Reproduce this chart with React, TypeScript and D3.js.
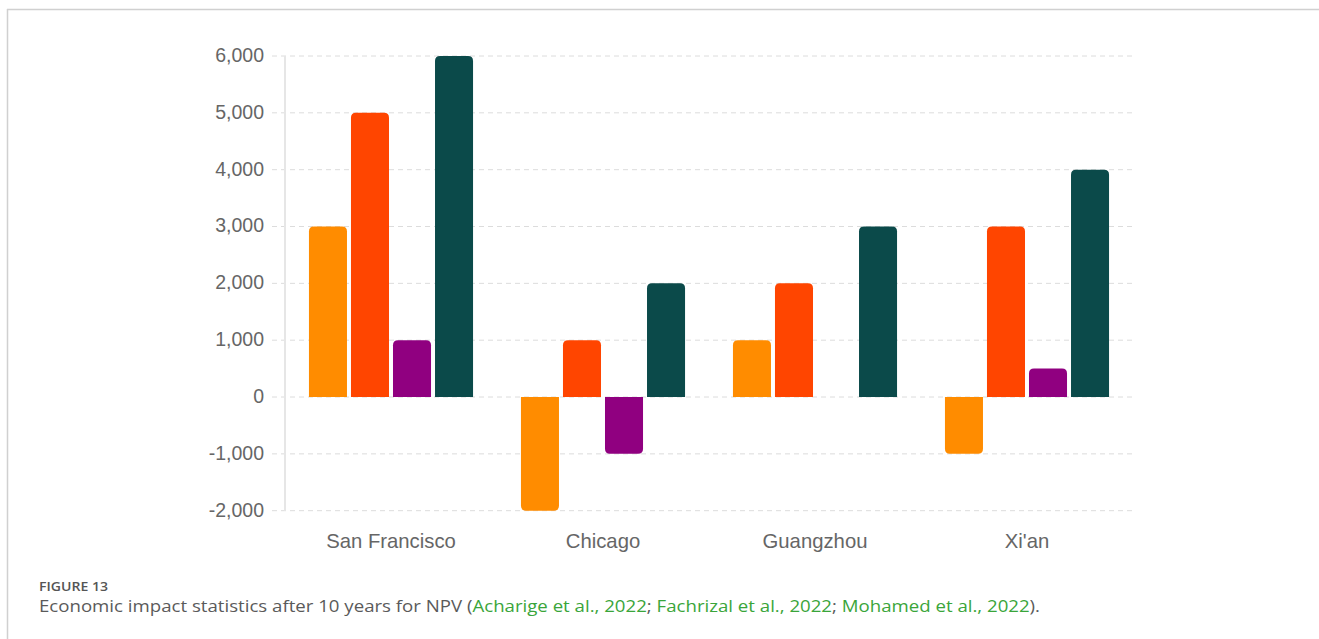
import React from "react";
import * as d3 from "d3";

const categories = ["San Francisco", "Chicago", "Guangzhou", "Xi'an"];
const seriesNames = ["A", "B", "C", "D"];
const seriesA = [3000, -2000, 1000, -1000];
const seriesB = [5000, 1000, 2000, 3000];
const seriesC = [1000, -1000, 0, 500];
const seriesD = [6000, 2000, 3000, 4000];
const colors = ["#ff8c00", "#ff4500", "#900080", "#0b4a4a"];
const yTicks = [-2000, -1000, 0, 1000, 2000, 3000, 4000, 5000, 6000];

const W = 1319;
const H = 639;

function barPath(x: number, w: number, y0: number, y1: number, r: number) {
  const h = Math.abs(y1 - y0);
  if (h < 0.5) return "";
  const rr = Math.min(r, h, w / 2);
  if (y1 < y0) {
    return `M${x},${y0}V${y1 + rr}Q${x},${y1} ${x + rr},${y1}H${x + w - rr}Q${x + w},${y1} ${x + w},${y1 + rr}V${y0}Z`;
  }
  return `M${x},${y0}V${y1 - rr}Q${x},${y1} ${x + rr},${y1}H${x + w - rr}Q${x + w},${y1} ${x + w},${y1 - rr}V${y0}Z`;
}

export default function App() {
  const series = [seriesA, seriesB, seriesC, seriesD];
  const left = 285;
  const right = 1133;
  const y = d3.scaleLinear().domain([-2000, 6000]).range([510.7, 56]);
  const x0 = d3.scaleBand().domain(categories).range([left, right]).paddingInner(0.226).paddingOuter(0.113);
  const x1 = d3.scaleBand().domain(seriesNames).range([0, x0.bandwidth()]).paddingInner(0.095);
  const fmt = (v: number) => d3.format(",")(v).replace("\u2212", "-");
  const axisFont = "Liberation Sans, Arial, sans-serif";
  return (
    <svg width={W} height={H} style={{ position: "absolute", left: 0, top: 0, background: "#fff" }}>
      <line x1={7} x2={W} y1={9.5} y2={9.5} stroke="#d0d0d0" strokeWidth={1.5} />
      <line x1={7.5} x2={7.5} y1={9} y2={H} stroke="#d0d0d0" strokeWidth={1.5} />
      {yTicks.map((t) => (
        <g key={t}>
          <line x1={272} x2={1133} y1={y(t)} y2={y(t)} stroke="#dcdcdc" strokeWidth={1} strokeDasharray="5,4" />
          <text x={264} y={y(t)} dy="0.3em" textAnchor="end" fontFamily={axisFont} fontSize={19.5} fill="#666">
            {fmt(t)}
          </text>
        </g>
      ))}
      <line x1={left} x2={left} y1={y(6000)} y2={y(-2000)} stroke="#e6e6e6" strokeWidth={2} />
      {categories.map((c, ci) => (
        <g key={c}>
          {series.map((s, si) => {
            const bx = (x0(c) as number) + (x1(seriesNames[si]) as number);
            return (
              <path key={si} d={barPath(bx, x1.bandwidth(), y(0), y(s[ci]), 5)} fill={colors[si]} />
            );
          })}
          <text
            x={(x0(c) as number) + x0.bandwidth() / 2}
            y={548}
            textAnchor="middle"
            fontFamily={axisFont}
            fontSize={20.3}
            fill="#666"
          >
            {c}
          </text>
        </g>
      ))}
      <text x={39} y={591} fontFamily="Open Sans, sans-serif" fontSize={13} fill="#555" fontWeight={600} textLength={69} lengthAdjust="spacingAndGlyphs">
        FIGURE 13
      </text>
      <text x={39} y={612} fontFamily="Open Sans, sans-serif" fontSize={16} fill="#5a5a5a" textLength={1001} lengthAdjust="spacingAndGlyphs">
        <tspan>Economic impact statistics after 10 years for NPV (</tspan>
        <tspan fill="#3aa53a">Acharige et al., 2022</tspan>
        <tspan>; </tspan>
        <tspan fill="#3aa53a">Fachrizal et al., 2022</tspan>
        <tspan>; </tspan>
        <tspan fill="#3aa53a">Mohamed et al., 2022</tspan>
        <tspan>).</tspan>
      </text>
    </svg>
  );
}
